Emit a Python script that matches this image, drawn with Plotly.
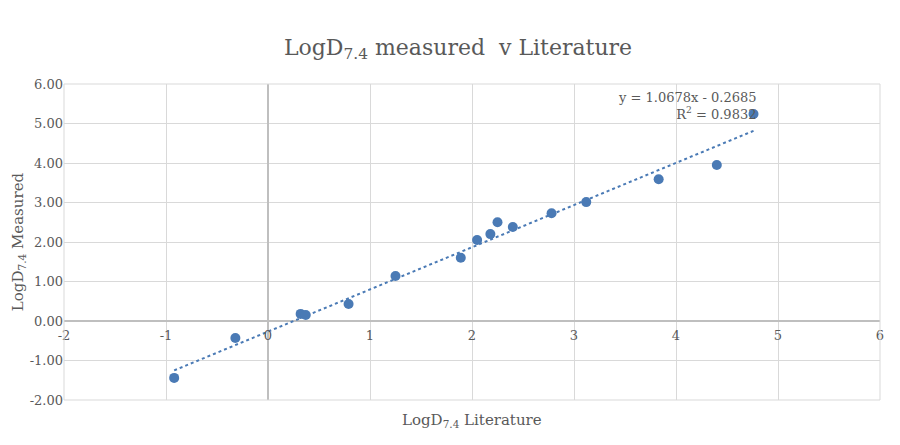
import plotly.graph_objects as go
import numpy as np

lit = [-0.92, -0.32, 0.32, 0.37, 0.79, 1.25, 1.89, 2.05, 2.18, 2.25, 2.40, 2.78, 3.12, 3.83, 4.40, 4.76]
meas = [-1.44, -0.43, 0.18, 0.15, 0.43, 1.14, 1.60, 2.05, 2.20, 2.50, 2.38, 2.73, 3.01, 3.59, 3.95, 5.24]
slope, intercept = 1.0678, -0.2685
xticks = [-2, -1, 0, 1, 2, 3, 4, 5, 6]
yticks = [-2, -1, 0, 1, 2, 3, 4, 5, 6]

tx = np.array([min(lit), max(lit)])
font = "DejaVu Serif"
grey = "#595959"

fig = go.Figure()
fig.add_trace(go.Scatter(x=tx, y=slope*tx+intercept, mode="lines",
                         line=dict(color="#4a7ab5", width=2, dash="dot"), hoverinfo="skip"))
fig.add_trace(go.Scatter(x=lit, y=meas, mode="markers",
                         marker=dict(color="#4a7ab5", size=10)))
fig.update_layout(
    width=900, height=445, showlegend=False, plot_bgcolor="white", paper_bgcolor="white",
    margin=dict(l=56, r=28, t=76, b=53, autoexpand=False),
    font=dict(family=font, color=grey, size=13),
    title=dict(text="LogD<sub>7.4</sub> measured  v Literature", x=0.5, y=0.93,
               xanchor="center", font=dict(size=22, color=grey)),
    xaxis=dict(range=[-2, 6], tickvals=xticks, ticktext=[str(v) for v in xticks],
               showgrid=True, gridcolor="#d9d9d9", zeroline=True, zerolinecolor="#bfbfbf",
               anchor="free", position=0.25, showline=False, ticks="outside",
               tickcolor="rgba(0,0,0,0)", ticklen=2, tickfont=dict(size=13), automargin=False),
    yaxis=dict(range=[-2, 6], tickvals=yticks, ticktext=[f"{v:.2f}" for v in yticks],
               showgrid=True, gridcolor="#d9d9d9", zeroline=True, zerolinecolor="#bfbfbf",
               ticks="", tickfont=dict(size=13), automargin=False,
               title=dict(text="LogD<sub>7.4</sub> Measured", font=dict(size=15), standoff=2)),
    shapes=[dict(type="rect", xref="paper", yref="paper", x0=0, y0=0, x1=1, y1=1,
                 line=dict(color="#d9d9d9", width=1))],
    annotations=[
        dict(text="LogD<sub>7.4</sub> Literature", xref="paper", yref="paper", x=0.5, y=-0.03,
             yanchor="top", showarrow=False, font=dict(size=15, color=grey)),
        dict(text="y = 1.0678x - 0.2685<br>R<sup>2</sup> = 0.9832", xref="x", yref="y",
             x=4.8, y=5.0, xanchor="right", yanchor="bottom", align="right", showarrow=False,
             font=dict(size=13, color=grey)),
    ],
)
fig.write_html("out.html")
